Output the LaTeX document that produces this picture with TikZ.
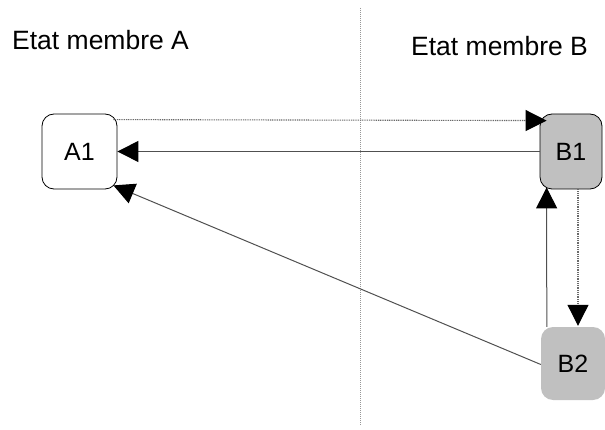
\documentclass[tikz,border=0pt]{standalone}
\usepackage{fontspec}
\setmainfont{Liberation Sans}
\usetikzlibrary{arrows.meta,calc}
\definecolor{boxgray}{HTML}{C0C0C0}
\definecolor{linegray}{HTML}{505050}
\definecolor{dotgray}{HTML}{6A6A6A}
\tikzset{
  statebox/.style={rectangle, rounded corners=12pt, inner sep=0pt, font=\fontsize{25}{28}\selectfont},
  whitebox/.style={statebox, draw=black, fill=white, line width=0.8pt},
  graybox/.style={statebox, draw=black, fill=boxgray, line width=0.8pt},
  graynoborder/.style={statebox, fill=boxgray},
  tipstyle/.style={-{Triangle[length=21pt,width=21pt,color=black,fill=black]}},
  solidarrow/.style={tipstyle, draw=linegray, line width=1pt},
  dotarrow/.style={tipstyle, draw=dotgray, line width=1.1pt, dash pattern=on 1pt off 0.8pt},
  divider/.style={draw=dotgray!70, line width=1pt, dash pattern=on 1pt off 1pt},
  header/.style={anchor=base west, inner sep=0pt, font=\fontsize{26.5}{30}\selectfont}
}
\begin{document}
\begin{tikzpicture}[x=1pt,y=-1pt]
\useasboundingbox (0,0) rectangle (605,430);
\node[header] (hA) at (12,50) {Etat membre A};
\node[header] (hB) at (411,56) {Etat membre B};
\coordinate (dtop) at (360,8);
\coordinate (dbot) at (360,426);
\draw[divider] (dtop) -- (dbot);
\node[whitebox, minimum width=75pt, minimum height=75pt] (A1) at (79.5,151.5) {A1};
\node[graybox, minimum width=62pt, minimum height=75pt] (B1) at (571,151.5) {B1};
\node[graynoborder, minimum width=64pt, minimum height=73pt] (B2) at (573,363.5) {B2};
\draw[dotarrow] ($(A1.north east)+(-4,6)$) -- ($(B1.north west)+(7,7)$);
\draw[solidarrow] (B1.west) -- (A1.east);
\draw[solidarrow] ($(B2.west)+(0,1)$) -- ($(A1.south east)+(-4,-4)$);
\draw[solidarrow] ($(B2.north west)+(6,0)$) -- ($(B1.south west)+(7,-2)$);
\draw[dotarrow] ($(B1.south)+(7,0)$) -- ($(B2.north)+(5,-1)$);
\end{tikzpicture}
\end{document}
